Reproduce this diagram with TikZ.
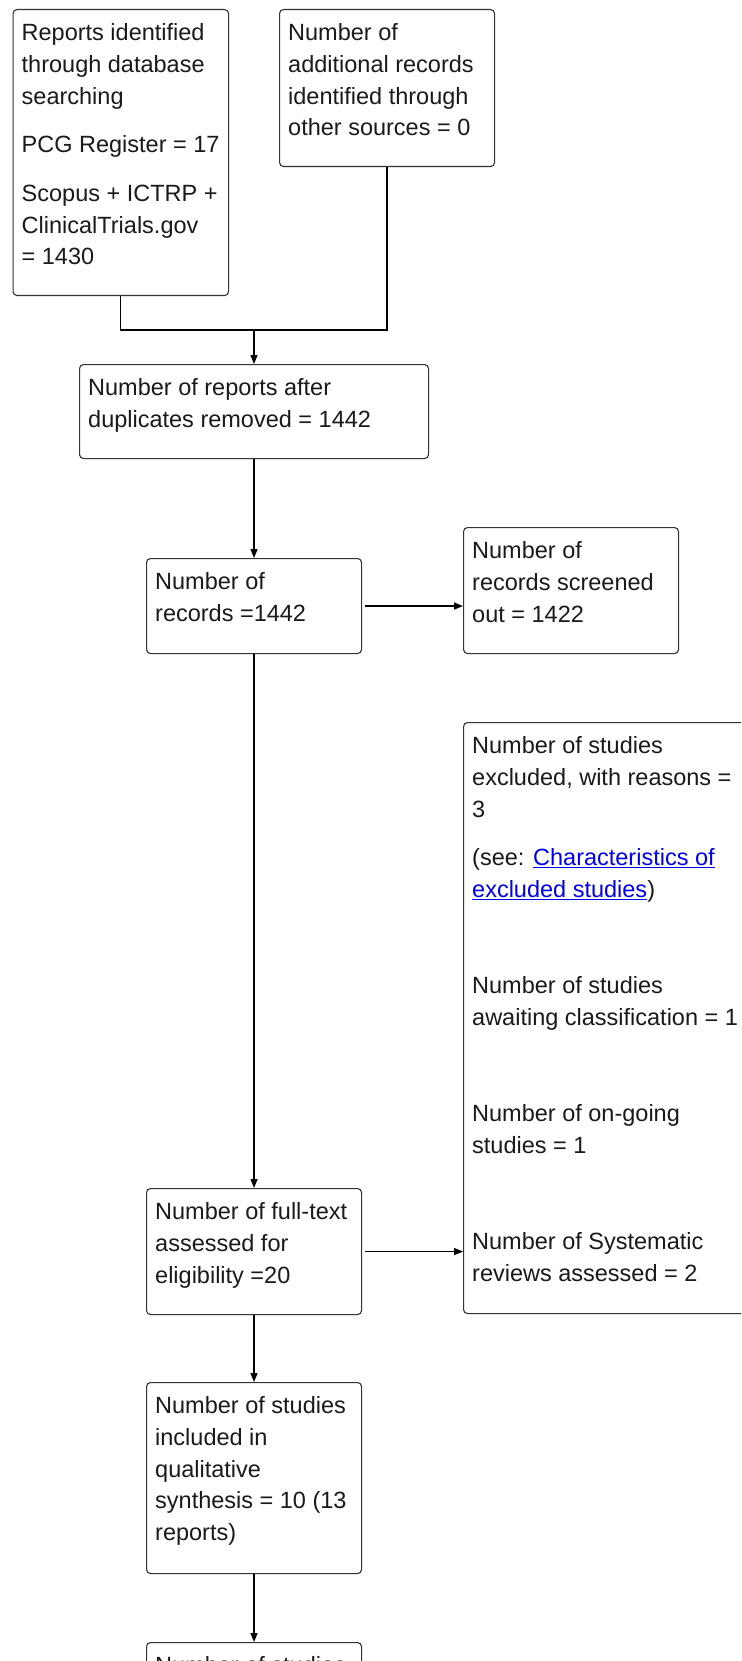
\documentclass[tikz,border=0pt]{standalone}
\usepackage{fontspec}
\setmainfont{Liberation Sans}
\usetikzlibrary{arrows.meta}
\definecolor{bord}{HTML}{333333}
\definecolor{txtc}{HTML}{1A1A1A}
\definecolor{linkc}{HTML}{0000EE}
\begin{document}
\begin{tikzpicture}[x=1pt,y=-1pt,
  box/.style={draw=bord, line width=1.1pt, rounded corners=4pt, inner sep=0pt, anchor=north west},
  txt/.style={anchor=north west, inner sep=0pt, align=left, text=txtc, font=\fontsize{23.5}{31.7}\selectfont},
  conn/.style={draw=black, line width=1.3pt},
  arr/.style={conn, -{Triangle[length=9pt,width=7pt]}}]
\path[use as bounding box] (0,0) rectangle (741,1661);
\clip (0,0) rectangle (741,1661);
\fill[white] (0,0) rectangle (741,1661);

% boxes
\node[box, minimum width=215.5pt, minimum height=286pt] (db) at (12.5,9) {};
\node[box, minimum width=215pt, minimum height=157pt] (other) at (279,9) {};
\node[box, minimum width=349pt, minimum height=94pt] (dup) at (79,364) {};
\node[box, minimum width=215pt, minimum height=95pt] (rec) at (146,558) {};
\node[box, minimum width=215pt, minimum height=126pt] (scr) at (463,527) {};
\node[box, minimum width=300pt, minimum height=591pt] (excl) at (463,722) {};
\node[box, minimum width=215pt, minimum height=126pt] (full) at (146,1188) {};
\node[box, minimum width=215pt, minimum height=191pt] (qual) at (146,1382) {};
\node[box, minimum width=215pt, minimum height=140pt] (last) at (146,1642) {};

% texts
\node[txt] (dbt) at ([shift={(9,14.4)}]db.north west)
  {Reports identified\\through database\\searching\\[17pt]PCG Register = 17\\[17pt]Scopus + ICTRP +\\ClinicalTrials.gov\\= 1430};
\node[txt] (othert) at ([shift={(9,14.4)}]other.north west)
  {Number of\\additional records\\identified through\\other sources = 0};
\node[txt] (dupt) at ([shift={(9,14.4)}]dup.north west)
  {Number of reports after\\duplicates removed = 1442};
\node[txt] (rect) at ([shift={(9,14.4)}]rec.north west)
  {Number of\\records =1442};
\node[txt] (scrt) at ([shift={(9,14.4)}]scr.north west)
  {Number of\\records screened\\out = 1422};
\node[txt] (exclt) at ([shift={(9,14.4)}]excl.north west)
  {Number of studies\\excluded, with reasons =\\3\\[17pt](see: {\color{linkc}\underline{Characteristics of}}\\{\color{linkc}\underline{excluded studies}})\\[64.6pt]Number of studies\\awaiting classification = 1\\[64.6pt]Number of on-going\\studies = 1\\[64.6pt]Number of Systematic\\reviews assessed = 2};
\node[txt] (fullt) at ([shift={(9,14.4)}]full.north west)
  {Number of full-text\\assessed for\\eligibility =20};
\node[txt] (qualt) at ([shift={(9,14.4)}]qual.north west)
  {Number of studies\\included in\\qualitative\\synthesis = 10 (13\\reports)};
\node[txt] (lastt) at ([shift={(9,14.4)}]last.north west)
  {Number of studies};

% connectors
\coordinate (j) at (254,330);
\draw[conn] (db.south) |- (other.south |- j) -- (other.south);
\draw[arr] (j) -- (j |- dup.north);
\draw[arr] (dup.south) -- (rec.north);
\draw[arr, shorten <=3pt] (rec.east) -- (rec.east -| scr.west);
\draw[arr] (rec.south) -- (full.north);
\draw[arr, shorten <=3pt] (full.east) -- (full.east -| excl.west);
\draw[arr] (full.south) -- (qual.north);
\draw[arr] (qual.south) -- (last.north);
\end{tikzpicture}
\end{document}
